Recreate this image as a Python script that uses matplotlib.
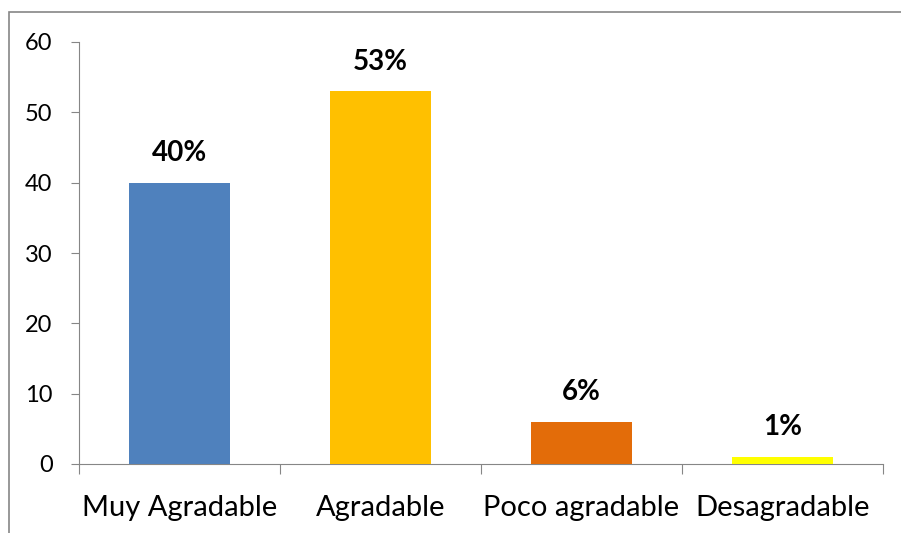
import matplotlib.pyplot as plt
from matplotlib.patches import Rectangle

categorias = ['Muy Agradable', 'Agradable', 'Poco agradable', 'Desagradable']
valores = [40, 53, 6, 1]
etiquetas = ['40%', '53%', '6%', '1%']
colores = ['#4F81BD', '#FFC000', '#E36C09', '#FFFF00']

plt.rcParams['font.family'] = ['Lato', 'DejaVu Sans']

fig = plt.figure(figsize=(9.01, 5.33), dpi=100)
W, H = 901, 533
ax = fig.add_axes([79 / W, 1 - 464 / H, 804 / W, (464 - 42) / H])

x = range(len(categorias))
ax.bar(x, valores, width=0.5, color=colores, zorder=3)

for i, (v, t) in enumerate(zip(valores, etiquetas)):
    ax.annotate(t, (i, v), xytext=(0, 12), textcoords='offset points',
                ha='center', va='bottom', fontsize=20, fontweight='bold')

ax.set_xlim(-0.5, 3.5)
ax.set_ylim(0, 60)
ax.set_yticks(range(0, 61, 10))
ax.tick_params(axis='y', length=6, color='#868686', labelsize=17, pad=13)

# ticks on category boundaries, labels centred on bars
ax.set_xticks([-0.5, 0.5, 1.5, 2.5, 3.5])
ax.set_xticklabels([])
ax.set_xticks(list(x), minor=True)
ax.set_xticklabels(categorias, minor=True, fontsize=21)
ax.tick_params(axis='x', which='major', length=7, color='#868686')
ax.tick_params(axis='x', which='minor', length=0, pad=22)

for s in ['top', 'right']:
    ax.spines[s].set_visible(False)
for s in ['left', 'bottom']:
    ax.spines[s].set_color('#868686')

# outer frame of the chart area
fig.patches.append(Rectangle((9 / W, -0.1), 1.2, 1 - 12 / H + 0.1,
                             transform=fig.transFigure, fill=False,
                             edgecolor='#868686', linewidth=1.2))

fig.savefig('out.png', dpi=100)
